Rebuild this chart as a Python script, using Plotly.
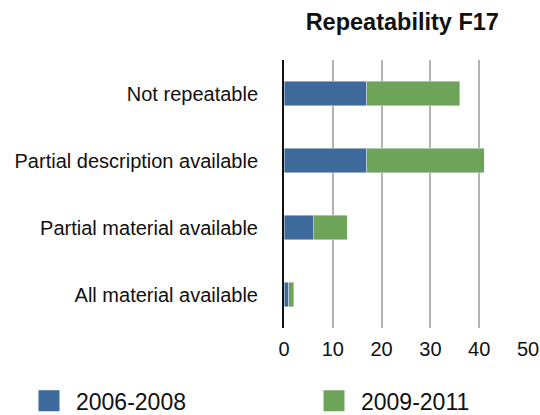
import plotly.graph_objects as go

categories = ["Not repeatable", "Partial description available", "Partial material available", "All material available"]
series_2006 = [17, 17, 6, 1]
series_2009 = [19, 24, 7, 1]
x_ticks = [0, 10, 20, 30, 40, 50]

blue = "#3d6a9b"
green = "#6ea45a"
font = "Liberation Sans, Arial, Helvetica, sans-serif"

fig = go.Figure()
fig.add_trace(go.Bar(y=categories, x=series_2006, orientation="h", marker_color=blue,
                     name="2006-2008", showlegend=False))
fig.add_trace(go.Bar(y=categories, x=series_2009, orientation="h", marker_color=green,
                     name="2009-2011", showlegend=False))
# legend entries with large square swatches, one legend each
fig.add_trace(go.Scatter(x=[None], y=[None], mode="markers", name="2006-2008", legend="legend",
                         marker=dict(symbol="square", size=16, color=blue,
                                     line=dict(color=blue, width=5))))
fig.add_trace(go.Scatter(x=[None], y=[None], mode="markers", name="2009-2011", legend="legend2",
                         marker=dict(symbol="square", size=16, color=green,
                                     line=dict(color=green, width=5))))

leg_common = dict(orientation="h", xref="container", yref="container", y=0.034,
                  xanchor="left", yanchor="middle", font=dict(size=23), itemsizing="trace",
                  itemwidth=44, bgcolor="rgba(0,0,0,0)")

fig.update_layout(
    width=540, height=415,
    barmode="stack", bargap=0.63,
    plot_bgcolor="white", paper_bgcolor="white",
    margin=dict(l=284, r=12, t=60, b=87, autoexpand=False),
    font=dict(family=font, size=20, color="#111111"),
    title=dict(text="<b>Repeatability F17</b>", x=0.745, xanchor="center", xref="container",
               y=0.947, yanchor="middle", yref="container",
               font=dict(size=23.5, color="#111111")),
    xaxis=dict(range=[0, 50], tickvals=x_ticks, showgrid=True, gridcolor="#b3b3b3", gridwidth=1.5,
               zeroline=False, showline=False, ticks="", ticklabelstandoff=7, automargin=False,
               tickfont=dict(size=20)),
    yaxis=dict(categoryorder="array", categoryarray=categories[::-1], autorange=True,
               showline=True, linecolor="#111111", linewidth=2, ticks="", automargin=False,
               ticklabelstandoff=20, showgrid=False, tickfont=dict(size=20)),
    legend=dict(x=22 / 540, **leg_common),
    legend2=dict(x=307 / 540, **leg_common),
)
fig.write_html("out.html", config={"displayModeBar": False},
               post_script="document.body.style.margin='0';document.body.style.overflow='hidden';")
